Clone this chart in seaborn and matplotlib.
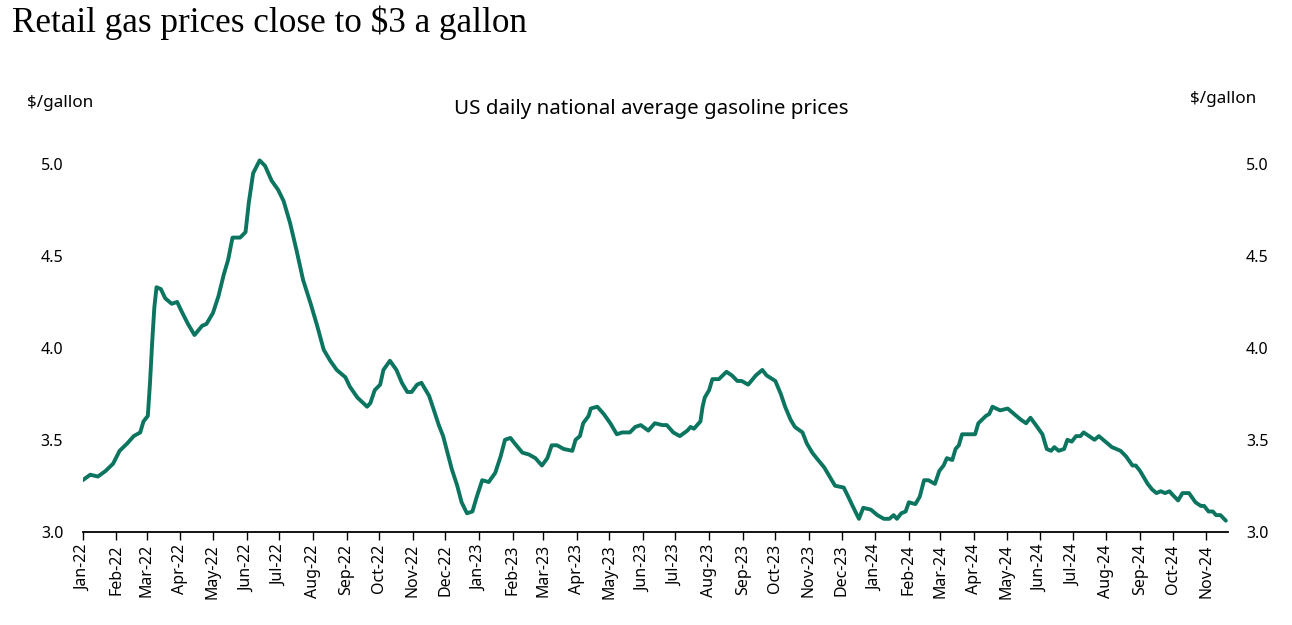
import matplotlib
matplotlib.use("Agg")
import matplotlib.pyplot as plt
import matplotlib.dates as mdates
import pandas as pd
import seaborn as sns

# ---- data ----
dates = [
    "2022-01-01", "2022-01-08", "2022-01-15", "2022-01-22", "2022-01-29", "2022-02-04",
    "2022-02-11", "2022-02-17", "2022-02-23", "2022-02-26", "2022-03-02", "2022-03-04",
    "2022-03-06", "2022-03-08", "2022-03-10", "2022-03-14", "2022-03-18", "2022-03-24",
    "2022-03-29", "2022-04-02", "2022-04-08", "2022-04-14", "2022-04-21", "2022-04-25",
    "2022-05-01", "2022-05-06", "2022-05-11", "2022-05-15", "2022-05-19", "2022-05-26",
    "2022-05-31", "2022-06-03", "2022-06-07", "2022-06-13", "2022-06-18", "2022-06-24",
    "2022-06-30", "2022-07-05", "2022-07-11", "2022-07-17", "2022-07-23", "2022-07-30",
    "2022-08-05", "2022-08-11", "2022-08-17", "2022-08-23", "2022-08-31", "2022-09-04",
    "2022-09-11", "2022-09-20", "2022-09-23", "2022-09-27", "2022-10-02", "2022-10-05",
    "2022-10-11", "2022-10-17", "2022-10-22", "2022-10-27", "2022-10-31", "2022-11-05",
    "2022-11-09", "2022-11-16", "2022-11-20", "2022-11-25", "2022-11-29", "2022-12-03",
    "2022-12-07", "2022-12-12", "2022-12-16", "2022-12-21", "2022-12-26", "2022-12-30",
    "2023-01-04", "2023-01-10", "2023-01-16", "2023-01-21", "2023-01-25", "2023-01-30",
    "2023-02-03", "2023-02-10", "2023-02-16", "2023-02-22", "2023-02-28", "2023-03-05",
    "2023-03-09", "2023-03-14", "2023-03-20", "2023-03-28", "2023-03-31", "2023-04-04",
    "2023-04-07", "2023-04-12", "2023-04-14", "2023-04-20", "2023-04-26", "2023-05-02",
    "2023-05-08", "2023-05-13", "2023-05-20", "2023-05-25", "2023-05-30", "2023-06-06",
    "2023-06-12", "2023-06-19", "2023-06-23", "2023-06-29", "2023-07-05", "2023-07-12",
    "2023-07-15", "2023-07-18", "2023-07-24", "2023-07-26", "2023-07-28", "2023-08-01",
    "2023-08-04", "2023-08-10", "2023-08-17", "2023-08-22", "2023-08-27", "2023-08-31",
    "2023-09-06", "2023-09-13", "2023-09-19", "2023-09-23", "2023-10-01", "2023-10-06",
    "2023-10-10", "2023-10-15", "2023-10-19", "2023-10-26", "2023-10-30", "2023-11-04",
    "2023-11-08", "2023-11-15", "2023-11-21", "2023-11-25", "2023-12-03", "2023-12-08",
    "2023-12-12", "2023-12-17", "2023-12-21", "2023-12-28", "2024-01-03", "2024-01-09",
    "2024-01-14", "2024-01-18", "2024-01-21", "2024-01-25", "2024-01-29", "2024-02-01",
    "2024-02-07", "2024-02-11", "2024-02-15", "2024-02-19", "2024-02-25", "2024-02-29",
    "2024-03-04", "2024-03-07", "2024-03-12", "2024-03-15", "2024-03-18", "2024-03-21",
    "2024-03-27", "2024-04-02", "2024-04-05", "2024-04-12", "2024-04-15", "2024-04-18",
    "2024-04-25", "2024-05-02", "2024-05-08", "2024-05-14", "2024-05-19", "2024-05-23",
    "2024-05-28", "2024-06-03", "2024-06-07", "2024-06-11", "2024-06-14", "2024-06-18",
    "2024-06-23", "2024-06-26", "2024-06-30", "2024-07-04", "2024-07-08", "2024-07-11",
    "2024-07-16", "2024-07-21", "2024-07-25", "2024-07-31", "2024-08-06", "2024-08-14",
    "2024-08-19", "2024-08-25", "2024-08-28", "2024-09-01", "2024-09-08", "2024-09-12",
    "2024-09-16", "2024-09-20", "2024-09-24", "2024-09-28", "2024-10-01", "2024-10-06",
    "2024-10-10", "2024-10-16", "2024-10-22", "2024-10-27", "2024-10-30", "2024-11-03",
    "2024-11-07", "2024-11-10", "2024-11-14", "2024-11-19",
]
prices = [
    3.28, 3.31, 3.30, 3.33, 3.37, 3.44,
    3.48, 3.52, 3.54, 3.60, 3.63, 3.81,
    4.03, 4.22, 4.33, 4.32, 4.27, 4.24,
    4.25, 4.20, 4.13, 4.07, 4.12, 4.13,
    4.19, 4.28, 4.40, 4.48, 4.60, 4.60,
    4.63, 4.79, 4.95, 5.02, 4.99, 4.91,
    4.86, 4.80, 4.68, 4.53, 4.37, 4.24,
    4.12, 3.99, 3.93, 3.88, 3.84, 3.79,
    3.73, 3.68, 3.70, 3.77, 3.80, 3.88,
    3.93, 3.88, 3.81, 3.76, 3.76, 3.80,
    3.81, 3.74, 3.67, 3.58, 3.52, 3.43,
    3.34, 3.25, 3.16, 3.10, 3.11, 3.19,
    3.28, 3.27, 3.32, 3.41, 3.50, 3.51,
    3.48, 3.43, 3.42, 3.40, 3.36, 3.40,
    3.47, 3.47, 3.45, 3.44, 3.50, 3.52,
    3.59, 3.63, 3.67, 3.68, 3.64, 3.59,
    3.53, 3.54, 3.54, 3.57, 3.58, 3.55,
    3.59, 3.58, 3.58, 3.54, 3.52, 3.55,
    3.57, 3.56, 3.60, 3.68, 3.73, 3.77,
    3.83, 3.83, 3.87, 3.85, 3.82, 3.82,
    3.80, 3.85, 3.88, 3.85, 3.82, 3.75,
    3.68, 3.61, 3.57, 3.54, 3.48, 3.43,
    3.40, 3.35, 3.29, 3.25, 3.24, 3.18,
    3.13, 3.07, 3.13, 3.12, 3.09, 3.07,
    3.07, 3.09, 3.07, 3.10, 3.11, 3.16,
    3.15, 3.19, 3.28, 3.28, 3.26, 3.33,
    3.36, 3.40, 3.39, 3.45, 3.47, 3.53,
    3.53, 3.53, 3.59, 3.63, 3.64, 3.68,
    3.66, 3.67, 3.64, 3.61, 3.59, 3.62,
    3.58, 3.53, 3.45, 3.44, 3.46, 3.44,
    3.45, 3.50, 3.49, 3.52, 3.52, 3.54,
    3.52, 3.50, 3.52, 3.49, 3.46, 3.44,
    3.41, 3.36, 3.36, 3.33, 3.26, 3.23,
    3.21, 3.22, 3.21, 3.22, 3.20, 3.17,
    3.21, 3.21, 3.16, 3.14, 3.14, 3.11,
    3.11, 3.09, 3.09, 3.06,
]
y_ticks = [3.0, 3.5, 4.0, 4.5, 5.0]
title = "Retail gas prices close to \\$3 a gallon"
subtitle = "US daily national average gasoline prices"
unit = "\\$/gallon"

df = pd.DataFrame({"date": pd.to_datetime(dates), "price": prices})

sns.set_theme(style="white")
plt.rcParams["font.family"] = ["Noto Sans", "DejaVu Sans"]

fig = plt.figure(figsize=(12.92, 6.25), dpi=100)
ax = fig.add_axes([0.064, 0.1493, 0.8865, 0.647])

sns.lineplot(data=df, x="date", y="price", ax=ax, color="#0b7560", linewidth=2.8)

ax.set_xlim(pd.Timestamp("2022-01-01"), pd.Timestamp("2024-11-21"))
ax.set_ylim(3.0, 5.2)
ax.set_yticks(y_ticks)
ax.set_yticklabels([f"{v:.1f}" for v in y_ticks])
ax.xaxis.set_major_locator(mdates.MonthLocator())
ax.xaxis.set_major_formatter(mdates.DateFormatter("%b-%y"))
for lab in ax.get_xticklabels():
    lab.set_rotation(90)
ax.tick_params(axis="x", which="major", bottom=True, direction="out", length=6,
               width=1.0, color="black", labelsize=11.5, pad=3, labelcolor="black")
ax.tick_params(axis="y", left=False, length=0, labelsize=11.5, pad=14, labelcolor="black")
ax.set_xlabel("")
ax.set_ylabel("")
for s in ["top", "left", "right"]:
    ax.spines[s].set_visible(False)
ax.spines["bottom"].set_color("black")
ax.spines["bottom"].set_linewidth(1.3)

ax2 = ax.twinx()
ax2.set_ylim(ax.get_ylim())
ax2.set_yticks(y_ticks)
ax2.set_yticklabels([f"{v:.1f}" for v in y_ticks])
ax2.tick_params(axis="y", left=False, right=False, length=0, labelsize=11.5, pad=13,
                labelcolor="black")
for s in ax2.spines.values():
    s.set_visible(False)
ax2.grid(False)
ax.grid(False)

fig.text(12 / 1292, 1 - 23 / 625, title, ha="left", va="center",
         fontsize=25.3, family="Liberation Serif", color="black")
fig.text(651 / 1292, 1 - 109 / 625, subtitle, ha="center", va="center",
         fontsize=14.8, color="black")
fig.text(27 / 1292, 1 - 103 / 625, unit, ha="left", va="center", fontsize=12.3, color="black")
fig.text(1256 / 1292, 1 - 99 / 625, unit, ha="right", va="center", fontsize=12.3, color="black")

fig.savefig("out.png", dpi=100, facecolor="white")
